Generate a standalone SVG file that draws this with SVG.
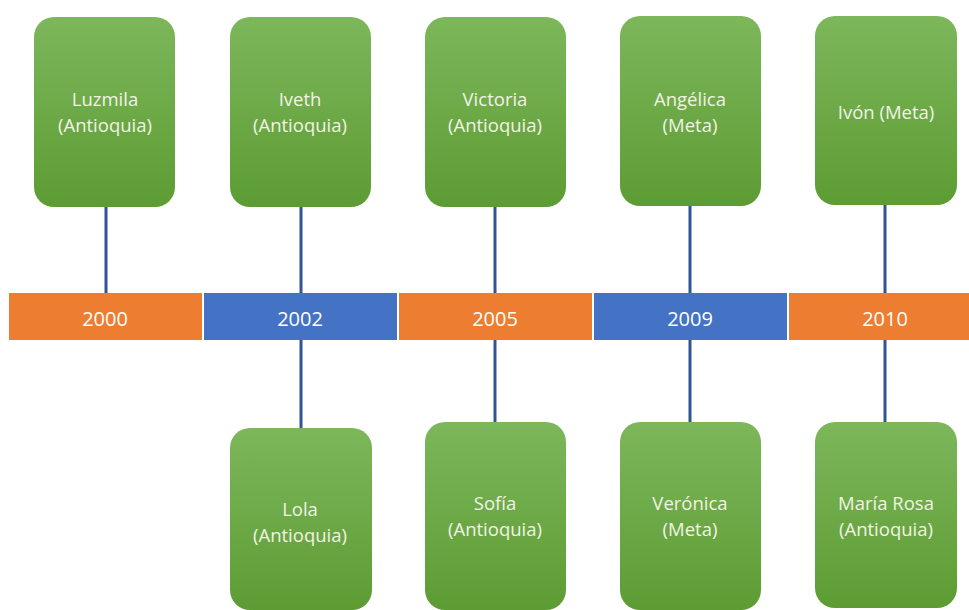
<svg xmlns="http://www.w3.org/2000/svg" width="969" height="610" viewBox="0 0 969 610">
<defs>
<linearGradient id="g" x1="0" y1="0" x2="0" y2="1">
<stop offset="0" stop-color="#7CB75B"/>
<stop offset="1" stop-color="#5D9C33"/>
</linearGradient>
<style>
.box{fill:url(#g);}
.t{font-family:"Open Sans","Liberation Sans",sans-serif;font-size:18.5px;fill:#F2F2E6;text-anchor:middle;}
.y{font-family:"Open Sans","Liberation Sans",sans-serif;font-size:20px;fill:#FFFFFF;text-anchor:middle;}
.c{stroke:#2F5597;stroke-width:3;fill:none;}
.o{fill:#ED7D31;}
.b{fill:#4472C4;}
</style>
</defs>
<rect width="969" height="610" fill="#FFFFFF"/>
<g id="connectors">
<line class="c" x1="106" y1="207" x2="106" y2="293"/>
<line class="c" x1="301" y1="207" x2="301" y2="293"/>
<line class="c" x1="301" y1="340" x2="301" y2="428"/>
<line class="c" x1="495" y1="207" x2="495" y2="293"/>
<line class="c" x1="495" y1="340" x2="495" y2="422"/>
<line class="c" x1="690" y1="206" x2="690" y2="293"/>
<line class="c" x1="690" y1="340" x2="690" y2="422"/>
<line class="c" x1="885" y1="205" x2="885" y2="293"/>
<line class="c" x1="885" y1="340" x2="885" y2="422"/>
</g>
<g id="y2000"><rect class="o" x="9" y="293" width="193" height="47"/><text class="y" x="105" y="326">2000</text></g>
<g id="y2002"><rect class="b" x="204" y="293" width="193" height="47"/><text class="y" x="300" y="326">2002</text></g>
<g id="y2005"><rect class="o" x="399" y="293" width="193" height="47"/><text class="y" x="495" y="326">2005</text></g>
<g id="y2009"><rect class="b" x="594" y="293" width="193" height="47"/><text class="y" x="690" y="326">2009</text></g>
<g id="y2010"><rect class="o" x="789" y="293" width="180" height="47"/><text class="y" x="885" y="326">2010</text></g>
<g id="luzmila"><rect class="box" x="34" y="17" width="141" height="190" rx="20"/><text class="t" x="105" y="106">Luzmila</text><text class="t" x="105" y="132">(Antioquia)</text></g>
<g id="iveth"><rect class="box" x="230" y="17" width="141" height="190" rx="20"/><text class="t" x="300" y="106">Iveth</text><text class="t" x="300" y="132">(Antioquia)</text></g>
<g id="victoria"><rect class="box" x="425" y="17" width="141" height="190" rx="20"/><text class="t" x="495" y="106">Victoria</text><text class="t" x="495" y="132">(Antioquia)</text></g>
<g id="angelica"><rect class="box" x="620" y="16" width="141" height="190" rx="20"/><text class="t" x="690" y="106">Angélica</text><text class="t" x="690" y="132">(Meta)</text></g>
<g id="ivon"><rect class="box" x="815" y="16" width="142" height="189" rx="20"/><text class="t" x="886" y="119">Ivón (Meta)</text></g>
<g id="lola"><rect class="box" x="230" y="428" width="142" height="182" rx="20"/><text class="t" x="300" y="516">Lola</text><text class="t" x="300" y="542">(Antioquia)</text></g>
<g id="sofia"><rect class="box" x="425" y="422" width="141" height="188" rx="20"/><text class="t" x="495" y="510">Sofía</text><text class="t" x="495" y="536">(Antioquia)</text></g>
<g id="veronica"><rect class="box" x="620" y="422" width="141" height="188" rx="20"/><text class="t" x="690" y="510">Verónica</text><text class="t" x="690" y="536">(Meta)</text></g>
<g id="mariarosa"><rect class="box" x="815" y="422" width="142" height="186" rx="20"/><text class="t" x="886" y="510">María Rosa</text><text class="t" x="886" y="536">(Antioquia)</text></g>
</svg>
